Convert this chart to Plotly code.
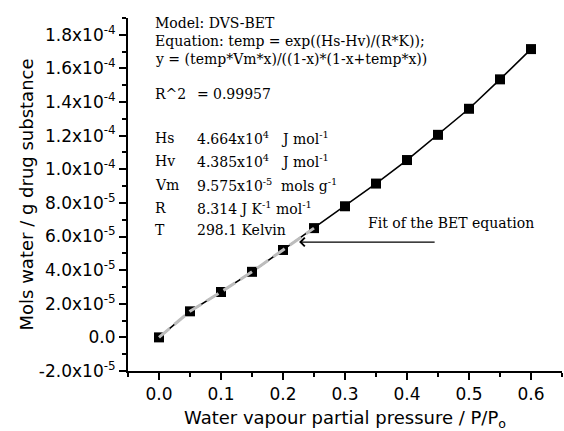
import plotly.graph_objects as go

# ---- data ----
pp = [0.0, 0.05, 0.10, 0.15, 0.20, 0.25, 0.30, 0.35, 0.40, 0.45, 0.50, 0.55, 0.60]
uptake = [0.0, 1.55e-5, 2.7e-5, 3.9e-5, 5.2e-5, 6.5e-5, 7.8e-5, 9.15e-5, 1.055e-4,
          1.205e-4, 1.36e-4, 1.535e-4, 1.715e-4]
fit_x = pp[:6]
fit_y = uptake[:6]

ytick_vals = [-2e-5, 0, 2e-5, 4e-5, 6e-5, 8e-5, 1e-4, 1.2e-4, 1.4e-4, 1.6e-4, 1.8e-4]
ytick_text = ["-2.0x10<sup>-5</sup>", "0.0", "2.0x10<sup>-5</sup>", "4.0x10<sup>-5</sup>",
              "6.0x10<sup>-5</sup>", "8.0x10<sup>-5</sup>", "1.0x10<sup>-4</sup>",
              "1.2x10<sup>-4</sup>", "1.4x10<sup>-4</sup>", "1.6x10<sup>-4</sup>",
              "1.8x10<sup>-4</sup>"]
xtick_vals = [0.0, 0.1, 0.2, 0.3, 0.4, 0.5, 0.6]
xtick_text = ["0.0", "0.1", "0.2", "0.3", "0.4", "0.5", "0.6"]

W, H = 564, 431
ML, MR, MT, MB = 128, 2, 18, 60
PW, PH = W - ML - MR, H - MT - MB


def px(x):
    return (x - ML) / PW


def py(y):
    return 1 - (y - MT) / PH


fig = go.Figure()
fig.add_trace(go.Scatter(x=pp, y=uptake, mode="lines",
                         line=dict(color="black", width=1.6), showlegend=False))
fig.add_trace(go.Scatter(x=pp, y=uptake, mode="markers",
                         marker=dict(symbol="square", size=10, color="black"),
                         showlegend=False))
fig.add_trace(go.Scatter(x=fit_x, y=fit_y, mode="lines",
                         line=dict(color="#bdbdbd", width=3, dash="14px,6px"),
                         showlegend=False))

serif = dict(family="DejaVu Serif", size=14, color="black")
ann = []


def txt(x, y, s):
    ann.append(dict(x=px(x), y=py(y), xref="paper", yref="paper", text=s,
                    showarrow=False, xanchor="left", yanchor="middle", font=serif))


txt(153, 23, "Model: DVS-BET")
txt(153, 41, "Equation: temp = exp((Hs-Hv)/(R*K));")
txt(153, 59, "y = (temp*Vm*x)/((1-x)*(1-x+temp*x))")
txt(153, 94, "R^2")
txt(195, 94, "=")
txt(211, 94, "0.99957")
labels = [("Hs", 138), ("Hv", 161), ("Vm", 185), ("R", 208), ("T", 230)]
values = ["4.664x10<sup>4</sup>", "4.385x10<sup>4</sup>", "9.575x10<sup>-5</sup>",
          "8.314 J K<sup>-1</sup> mol<sup>-1</sup>", "298.1 Kelvin"]
units = ["J mol<sup>-1</sup>", "J mol<sup>-1</sup>", "mols g<sup>-1</sup>", "", ""]
for (lab, yy), v, u in zip(labels, values, units):
    txt(153, yy, lab)
    txt(195, yy, v)
    if u:
        txt(279, yy, u)
txt(366, 223, "Fit of the BET equation")

ann.append(dict(x=0.226, y=5.67e-5, xref="x", yref="y", ax=0.447, ay=5.67e-5,
                axref="x", ayref="y", showarrow=True, arrowhead=4, arrowsize=1.4,
                arrowwidth=1.2, arrowcolor="black", text=""))

fig.update_layout(
    width=W, height=H,
    margin=dict(l=ML, r=MR, t=MT, b=MB),
    paper_bgcolor="white", plot_bgcolor="white",
    annotations=ann,
    xaxis=dict(range=[-0.05, 0.65], tickvals=xtick_vals, ticktext=xtick_text,
               automargin=False,
               showgrid=False, zeroline=False, showline=True, linecolor="black",
               linewidth=2, ticks="outside", ticklen=7, tickwidth=1.5,
               tickcolor="black",
               minor=dict(tickvals=[-0.05, 0.05, 0.15, 0.25, 0.35, 0.45, 0.55, 0.65],
                          ticks="outside", ticklen=4, tickwidth=1.5, tickcolor="black"),
               tickfont=dict(family="DejaVu Sans", size=17, color="black"),
               title=dict(text="Water vapour partial pressure / P/P<sub>o</sub>",
                          font=dict(family="DejaVu Sans", size=18, color="black"),
                          standoff=8)),
    yaxis=dict(range=[-2e-5, 1.9e-4], tickvals=ytick_vals, ticktext=ytick_text,
               automargin=False,
               showgrid=False, zeroline=False, showline=True, linecolor="black",
               linewidth=2, ticks="outside", ticklen=7, tickwidth=1.5,
               tickcolor="black",
               minor=dict(tickvals=[-1e-5 + 2e-5 * i for i in range(11)],
                          ticks="outside", ticklen=4, tickwidth=1.5, tickcolor="black"),
               tickfont=dict(family="DejaVu Sans", size=17, color="black"),
               title=dict(text="Mols water / g drug substance",
                          font=dict(family="DejaVu Sans", size=18, color="black"),
                          standoff=1)),
)

fig.write_html("out.html", config={"displayModeBar": False},
               post_script="document.body.style.margin='0px';")
